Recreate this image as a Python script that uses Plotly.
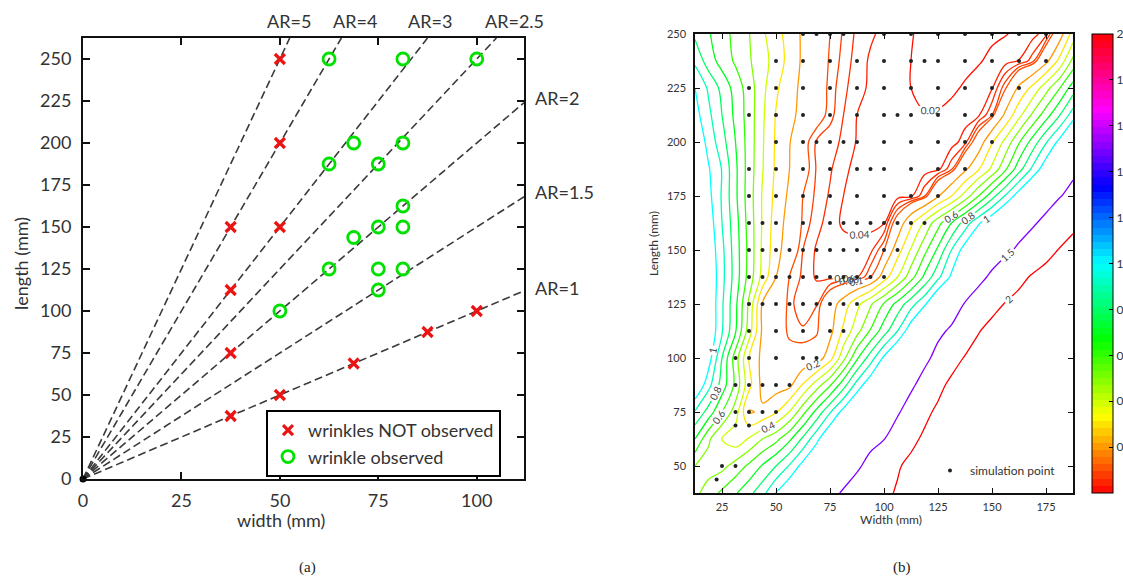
import plotly.graph_objects as go

FIG_W, FIG_H = 1123, 578


def px_x(p):
    return p / FIG_W


def px_y(p):
    return 1 - p / FIG_H


# ---------------- panel (a) data ----------------
aspect_ratios = [5, 4, 3, 2.5, 2, 1.5, 1]
a_width_range = [0, 112]
a_length_range = [0, 262.5]
a_ticks_x = [0, 25, 50, 75, 100]
a_ticks_y = [0, 25, 50, 75, 100, 125, 150, 175, 200, 225, 250]

not_obs_width = [37.5, 50, 68.75, 87.5, 100, 37.5, 37.5, 37.5, 50, 50, 50]
not_obs_length = [37.5, 50, 68.75, 87.5, 100, 75, 112.5, 150, 150, 200, 250]

obs_width = [62.5, 81.25, 100, 68.75, 81.25, 62.5, 75, 81.25, 75, 81.25,
             68.75, 62.5, 75, 81.25, 75, 50]
obs_length = [250, 250, 250, 200, 200, 187.5, 187.5, 162.5, 150, 150,
              143.75, 125, 125, 125, 112.5, 100]

# ---------------- panel (b) data ----------------
b_width_range = [12.5, 187.5]
b_length_range = [37.5, 250]
b_ticks_x = [25, 50, 75, 100, 125, 150, 175]
b_ticks_y = [50, 75, 100, 125, 150, 175, 200, 225, 250]
cbar_ticks = [0.2, 0.4, 0.6, 0.8, 1, 1.2, 1.4, 1.6, 1.8, 2]
cbar_range = [0, 2]

grid_width = [12.5, 18.75, 25, 31.25, 37.5, 43.75, 50, 56.25, 62.5, 68.75,
              75, 81.25, 87.5, 93.75, 100, 106.25, 112.5, 118.75, 125, 131.25,
              137.5, 143.75, 150, 156.25, 162.5, 168.75, 175, 181.25, 187.5]
grid_length = [37.5, 50, 62.5, 75, 87.5, 100, 112.5, 125, 137.5, 150,
               162.5, 175, 187.5, 200, 212.5, 225, 237.5, 250]

# estimated field value read from the contour map (rows follow grid_length)
field_rows = [
    [0.47, 0.55, 0.62, 0.69, 0.77, 0.865, 1.005, 1.11, 1.21, 1.32, 1.42, 1.53, 1.66, 1.78, 1.91, 2.04, 2.15, 2.25, 2.33, 2.40, 2.46, 2.52, 2.57, 2.62, 2.66, 2.70, 2.74, 2.77, 2.80],
    [0.50, 0.45, 0.47, 0.54, 0.62, 0.71, 0.80, 0.91, 1.04, 1.14, 1.25, 1.35, 1.45, 1.60, 1.82, 1.96, 2.10, 2.20, 2.30, 2.37, 2.44, 2.50, 2.56, 2.60, 2.64, 2.68, 2.72, 2.75, 2.78],
    [0.70, 0.52, 0.39, 0.34, 0.41, 0.50, 0.57, 0.68, 0.82, 0.97, 1.12, 1.23, 1.32, 1.41, 1.49, 1.69, 1.90, 2.07, 2.20, 2.30, 2.38, 2.45, 2.51, 2.56, 2.60, 2.64, 2.68, 2.71, 2.74],
    [0.89, 0.76, 0.60, 0.45, 0.19, 0.215, 0.29, 0.405, 0.57, 0.73, 0.89, 1.04, 1.17, 1.28, 1.37, 1.46, 1.66, 1.90, 2.08, 2.20, 2.30, 2.38, 2.44, 2.50, 2.55, 2.60, 2.63, 2.66, 2.70],
    [1.12, 0.935, 0.757, 0.575, 0.33, 0.17, 0.155, 0.175, 0.31, 0.45, 0.59, 0.76, 0.94, 1.08, 1.20, 1.32, 1.44, 1.63, 1.88, 2.10, 2.22, 2.32, 2.40, 2.46, 2.51, 2.55, 2.59, 2.62, 2.65],
    [1.20, 1.05, 0.80, 0.55, 0.30, 0.17, 0.125, 0.115, 0.12, 0.14, 0.26, 0.47, 0.685, 0.85, 1.02, 1.16, 1.29, 1.42, 1.60, 1.82, 2.03, 2.15, 2.25, 2.33, 2.40, 2.45, 2.50, 2.54, 2.58],
    [1.28, 1.10, 0.91, 0.71, 0.45, 0.18, 0.126, 0.093, 0.085, 0.092, 0.17, 0.32, 0.465, 0.61, 0.755, 0.90, 1.07, 1.26, 1.43, 1.55, 1.72, 1.98, 2.12, 2.22, 2.30, 2.36, 2.42, 2.47, 2.50],
    [1.30, 1.10, 0.915, 0.725, 0.48, 0.19, 0.14, 0.09, 0.059, 0.078, 0.15, 0.245, 0.37, 0.485, 0.61, 0.735, 0.86, 0.98, 1.15, 1.33, 1.52, 1.70, 1.88, 2.02, 2.12, 2.20, 2.27, 2.33, 2.38],
    [1.30, 1.10, 0.93, 0.755, 0.56, 0.365, 0.20, 0.099, 0.075, 0.057, 0.053, 0.052, 0.056, 0.10, 0.25, 0.40, 0.56, 0.72, 0.875, 1.02, 1.21, 1.39, 1.57, 1.74, 1.90, 2.04, 2.14, 2.23, 2.30],
    [1.25, 1.08, 0.925, 0.75, 0.57, 0.38, 0.24, 0.135, 0.08, 0.057, 0.052, 0.05, 0.05, 0.053, 0.10, 0.255, 0.41, 0.57, 0.72, 0.90, 1.05, 1.175, 1.30, 1.425, 1.56, 1.72, 1.87, 2.02, 2.15],
    [1.20, 1.06, 0.90, 0.74, 0.56, 0.39, 0.25, 0.16, 0.093, 0.068, 0.05, 0.036, 0.032, 0.033, 0.038, 0.13, 0.28, 0.415, 0.565, 0.70, 0.845, 0.985, 1.10, 1.22, 1.34, 1.45, 1.60, 1.75, 1.90],
    [1.15, 1.03, 0.89, 0.72, 0.55, 0.39, 0.27, 0.18, 0.10, 0.075, 0.057, 0.04, 0.034, 0.031, 0.030, 0.031, 0.034, 0.077, 0.19, 0.30, 0.44, 0.60, 0.76, 0.91, 1.06, 1.19, 1.33, 1.48, 1.60],
    [1.13, 1.01, 0.895, 0.72, 0.555, 0.405, 0.282, 0.20, 0.119, 0.078, 0.063, 0.043, 0.036, 0.032, 0.030, 0.029, 0.029, 0.030, 0.033, 0.075, 0.18, 0.29, 0.42, 0.585, 0.76, 0.92, 1.07, 1.25, 1.43],
    [1.10, 0.965, 0.84, 0.70, 0.557, 0.41, 0.286, 0.205, 0.116, 0.077, 0.066, 0.057, 0.038, 0.032, 0.029, 0.027, 0.026, 0.026, 0.027, 0.030, 0.05, 0.14, 0.29, 0.43, 0.59, 0.74, 0.89, 1.03, 1.20],
    [1.04, 0.925, 0.80, 0.675, 0.555, 0.417, 0.294, 0.226, 0.17, 0.122, 0.088, 0.06, 0.04, 0.033, 0.028, 0.025, 0.022, 0.021, 0.022, 0.025, 0.03, 0.036, 0.08, 0.22, 0.37, 0.517, 0.655, 0.795, 0.95],
    [1.0, 0.885, 0.77, 0.66, 0.55, 0.428, 0.316, 0.237, 0.176, 0.129, 0.091, 0.066, 0.046, 0.037, 0.031, 0.025, 0.020, 0.015, 0.013, 0.017, 0.022, 0.03, 0.038, 0.095, 0.218, 0.325, 0.46, 0.595, 0.75],
    [0.88, 0.75, 0.66, 0.585, 0.512, 0.44, 0.355, 0.265, 0.182, 0.135, 0.095, 0.073, 0.05, 0.037, 0.031, 0.025, 0.020, 0.016, 0.013, 0.013, 0.015, 0.018, 0.025, 0.032, 0.041, 0.07, 0.172, 0.327, 0.53],
    [0.78, 0.71, 0.64, 0.572, 0.504, 0.416, 0.339, 0.256, 0.184, 0.142, 0.10, 0.077, 0.055, 0.043, 0.035, 0.027, 0.021, 0.016, 0.013, 0.012, 0.012, 0.014, 0.016, 0.019, 0.024, 0.032, 0.05, 0.15, 0.34],
]

contour_levels = [0.02, 0.04, 0.06, 0.08, 0.1, 0.2, 0.3, 0.4, 0.5, 0.6, 0.7,
                  0.8, 0.9, 1.0, 1.5, 2.0]
labelled_levels = [0.02, 0.04, 0.06, 0.08, 0.1, 0.2, 0.4, 0.6, 0.8, 1.0, 1.5, 2.0]

sim_lengths = [250, 237.5, 225, 212.5, 200, 187.5, 175, 162.5, 150, 137.5,
               125, 112.5, 100, 87.5, 75, 68.75, 50, 43.75]
sim_widths = [
    [62.5, 68.75, 75, 81.25, 100, 112.5, 125, 137.5, 150, 162.5, 175],
    [50, 62.5, 75, 87.5, 100, 112.5, 118.75, 125, 137.5, 150, 162.5, 175],
    [37.5, 50, 62.5, 75, 87.5, 100, 112.5, 125, 137.5, 150, 162.5],
    [37.5, 50, 62.5, 75, 87.5, 100, 106.25, 112.5, 125, 137.5, 150],
    [50, 62.5, 68.75, 75, 81.25, 87.5, 100, 112.5, 125, 137.5, 150],
    [37.5, 50, 62.5, 75, 87.5, 93.75, 100, 112.5, 125, 137.5],
    [37.5, 50, 62.5, 75, 87.5, 100, 112.5, 125],
    [37.5, 43.75, 50, 62.5, 75, 81.25, 87.5, 93.75, 100, 106.25, 112.5, 118.75],
    [37.5, 43.75, 50, 56.25, 62.5, 68.75, 75, 81.25, 87.5, 100, 106.25],
    [37.5, 43.75, 50, 56.25, 62.5, 68.75, 75, 81.25, 87.5, 93.75, 100],
    [37.5, 43.75, 50, 56.25, 62.5, 68.75, 75, 81.25, 87.5],
    [37.5, 50, 62.5, 75, 81.25],
    [31.25, 37.5, 50, 62.5, 68.75],
    [31.25, 37.5, 43.75, 50, 56.25],
    [31.25, 37.5, 43.75, 50],
    [31.25, 37.5],
    [25, 31.25],
    [22.5],
]

# ---------------- styles ----------------
hsv_stops = [(0, (255, 0, 0)), (1 / 6, (255, 255, 0)), (1 / 3, (0, 255, 0)),
             (0.5, (0, 255, 255)), (2 / 3, (0, 0, 255)), (5 / 6, (255, 0, 255)),
             (1, (255, 0, 0))]


def hsv_at(t):
    t = max(0.0, min(1.0, t))
    for (p0, c0), (p1, c1) in zip(hsv_stops[:-1], hsv_stops[1:]):
        if p0 <= t <= p1:
            f = (t - p0) / (p1 - p0)
            return tuple(round(a + (b - a) * f) for a, b in zip(c0, c1))
    return hsv_stops[-1][1]


n_bands = 64
band_scale = []
for i in range(n_bands):
    c = "rgb(%d,%d,%d)" % hsv_at((i + 0.5) / n_bands)
    band_scale.append([i / n_bands, c])
    band_scale.append([(i + 1) / n_bands, c])

FONT_A = "Lato"
TXT = "#333333"

fig = go.Figure()

# AR guide lines
for ar in aspect_ratios:
    x_end = min(a_width_range[1], a_length_range[1] / ar)
    fig.add_trace(go.Scatter(
        x=[0, x_end], y=[0, ar * x_end], mode="lines",
        line=dict(color="#3a3a3a", width=1.6, dash="8px,4px"),
        showlegend=False, hoverinfo="skip", xaxis="x", yaxis="y"))

fig.add_trace(go.Scatter(
    x=[0], y=[0], mode="markers", marker=dict(color="black", size=7),
    showlegend=False, hoverinfo="skip", cliponaxis=False, xaxis="x", yaxis="y"))

fig.add_trace(go.Scatter(
    x=not_obs_width, y=not_obs_length, mode="markers", name="wrinkles NOT observed",
    marker=dict(symbol="x-thin-open", size=10, color="rgb(235,20,20)",
                line=dict(width=3.2, color="rgb(235,20,20)")),
    xaxis="x", yaxis="y", legend="legend"))
fig.add_trace(go.Scatter(
    x=obs_width, y=obs_length, mode="markers", name="wrinkle observed",
    marker=dict(symbol="circle-open", size=12, color="rgb(0,225,0)", line=dict(width=2.8)),
    xaxis="x", yaxis="y", legend="legend"))

# contour map: one trace per level, coloured from the colour bar's scale
for lev in contour_levels:
    col = "rgb(%d,%d,%d)" % hsv_at((lev - cbar_range[0]) / (cbar_range[1] - cbar_range[0]))
    fig.add_trace(go.Contour(
        x=grid_width, y=grid_length, z=field_rows,
        showscale=False, autocontour=False,
        contours=dict(start=lev, end=lev, size=0.01, coloring="none",
                      showlabels=lev in labelled_levels,
                      labelfont=dict(size=10, color="#444444", family=FONT_A)),
        line=dict(width=1.3, smoothing=1, color=col),
        hoverinfo="skip", showlegend=False, xaxis="x2", yaxis="y2"))

# colorbar carrier
fig.add_trace(go.Scatter(
    x=[None], y=[None], mode="markers", showlegend=False, hoverinfo="skip",
    marker=dict(color=[0], cmin=cbar_range[0], cmax=cbar_range[1], colorscale=band_scale,
                showscale=True,
                colorbar=dict(x=px_x(1092), xanchor="left", y=px_y(493), yanchor="bottom",
                              len=(493 - 34) / FIG_H, lenmode="fraction",
                              thickness=21, thicknessmode="pixels", xpad=0, ypad=0,
                              outlinewidth=1, outlinecolor="black",
                              tickvals=cbar_ticks, ticks="inside", ticklen=4,
                              tickcolor="black",
                              tickfont=dict(size=12, color=TXT, family=FONT_A))),
    xaxis="x2", yaxis="y2"))

sim_x = [w for ws in sim_widths for w in ws]
sim_y = [L for L, ws in zip(sim_lengths, sim_widths) for _ in ws]
fig.add_trace(go.Scatter(
    x=sim_x, y=sim_y, mode="markers", name="simulation point",
    marker=dict(color="#222222", size=4), hoverinfo="skip",
    xaxis="x2", yaxis="y2", legend="legend2"))

# ---------------- layout ----------------
axis_a = dict(showline=True, linecolor="#111111", linewidth=2, mirror="allticks",
              ticks="inside", ticklen=7, tickwidth=1.5, tickcolor="#111111",
              showgrid=False, zeroline=False,
              tickfont=dict(size=18, color=TXT, family=FONT_A))
axis_b = dict(showline=True, linecolor="#111111", linewidth=1.5, mirror="allticks",
              ticks="inside", ticklen=5, tickwidth=1.2, tickcolor="#111111",
              showgrid=False, zeroline=False,
              tickfont=dict(size=11, color=TXT, family=FONT_A))

ar_top_pos = {5: 289, 4: 355, 3: 430, 2.5: 514}
ar_side_pos = {2: 98, 1.5: 192, 1: 288}

annotations = []
for ar in aspect_ratios:
    if ar in ar_top_pos:
        annotations.append(dict(x=px_x(ar_top_pos[ar]), y=px_y(21), xanchor="center",
                                yanchor="middle", text="AR=%g" % ar))
    else:
        annotations.append(dict(x=px_x(533), y=px_y(ar_side_pos[ar]), xanchor="left",
                                yanchor="middle", text="AR=%g" % ar))
for a in annotations:
    a.update(xref="paper", yref="paper", showarrow=False,
             font=dict(size=18, color=TXT, family=FONT_A))

extra = [
    dict(x=px_x(281), y=px_y(520), text="width (mm)", font=dict(size=18, color=TXT, family=FONT_A)),
    dict(x=px_x(21), y=px_y(264), text="length (mm)", textangle=-90,
         font=dict(size=18, color=TXT, family=FONT_A)),
    dict(x=px_x(891), y=px_y(519), text="Width (mm)", font=dict(size=12, color=TXT, family=FONT_A)),
    dict(x=px_x(653), y=px_y(244), text="Length (mm)", textangle=-90,
         font=dict(size=12, color=TXT, family=FONT_A)),
    dict(x=px_x(307), y=px_y(567), text="(a)", font=dict(size=15, color="#222", family="Liberation Serif")),
    dict(x=px_x(902), y=px_y(567), text="(b)", font=dict(size=15, color="#222", family="Liberation Serif")),
]
for a in extra:
    a.update(xref="paper", yref="paper", showarrow=False, xanchor="center", yanchor="middle")
annotations += extra

fig.update_layout(
    width=FIG_W, height=FIG_H, autosize=False,
    margin=dict(l=0, r=0, t=0, b=0, autoexpand=False),
    paper_bgcolor="white", plot_bgcolor="white",
    xaxis=dict(axis_a, domain=[px_x(83), px_x(524)], range=a_width_range,
               tickvals=a_ticks_x, anchor="y", ticklabelstandoff=4),
    yaxis=dict(axis_a, domain=[px_y(479), px_y(38)], range=a_length_range,
               tickvals=a_ticks_y, anchor="x", ticklabelstandoff=6),
    xaxis2=dict(axis_b, domain=[px_x(695), px_x(1073)], range=b_width_range,
                tickvals=b_ticks_x, anchor="y2", ticklabelstandoff=3),
    yaxis2=dict(axis_b, domain=[px_y(493), px_y(34)], range=b_length_range,
                tickvals=b_ticks_y, anchor="x2", ticklabelstandoff=5),
    legend=dict(x=px_x(266), y=px_y(410), xanchor="left", yanchor="top",
                bordercolor="black", borderwidth=2, bgcolor="white",
                font=dict(size=18, color=TXT, family=FONT_A),
                tracegroupgap=0, itemwidth=30),
    legend2=dict(x=px_x(930), y=px_y(456), xanchor="left", yanchor="top",
                 bgcolor="rgba(0,0,0,0)", borderwidth=0,
                 font=dict(size=12, color=TXT, family=FONT_A), itemwidth=30),
    annotations=annotations,
    showlegend=True,
)

fig.write_html("out.html")
